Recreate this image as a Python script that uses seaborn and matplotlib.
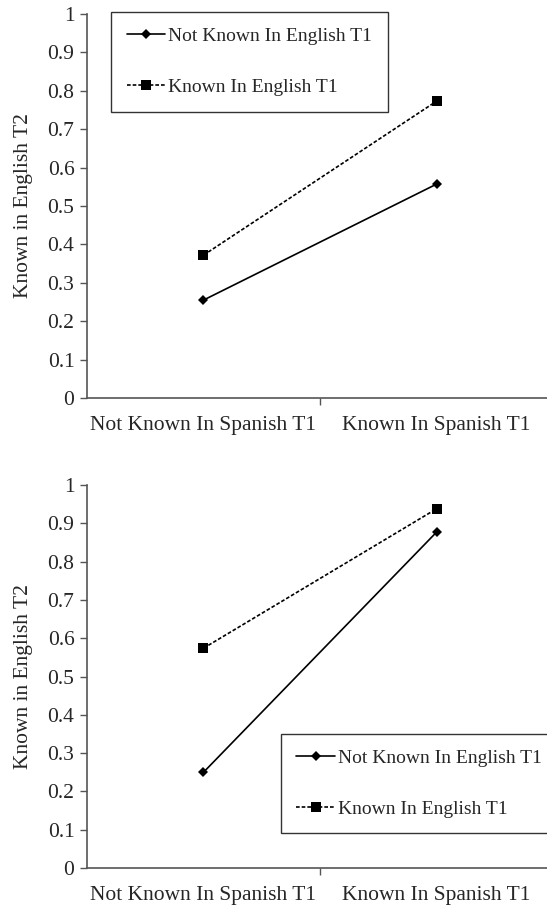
import matplotlib
matplotlib.use("Agg")
import matplotlib.pyplot as plt
import pandas as pd
import seaborn as sns

# ─── Dados ────────────────────────────────────────────────────────────────────
categorias = ["Not Known In Spanish T1", "Known In Spanish T1"]
series = ["Not Known In English T1", "Known In English T1"]

# painel superior
topo_nao_conhecido = [0.255, 0.557]
topo_conhecido = [0.372, 0.773]

# painel inferior
base_nao_conhecido = [0.25, 0.877]
base_conhecido = [0.574, 0.938]

y_ticks = [0, 0.1, 0.2, 0.3, 0.4, 0.5, 0.6, 0.7, 0.8, 0.9, 1]
y_labels = ["0", "0.1", "0.2", "0.3", "0.4", "0.5", "0.6", "0.7", "0.8", "0.9", "1"]
y_titulo = "Known in English T2"

sns.set_style("ticks")
plt.rcParams["font.family"] = ["Liberation Serif", "DejaVu Serif"]
plt.rcParams["font.size"] = 15.5

FONTE_EIXO = 15.5
FONTE_LEG = 14


def montar_df(nao_conhecido, conhecido):
    return pd.DataFrame({
        "cat": categorias * 2,
        "valor": nao_conhecido + conhecido,
        "serie": [series[0]] * 2 + [series[1]] * 2,
    })


def desenhar(ax, df, leg_anchor):
    sns.lineplot(data=df, x="cat", y="valor", hue="serie", style="serie",
                 palette={series[0]: "black", series[1]: "black"},
                 markers={series[0]: "D", series[1]: "s"},
                 dashes={series[0]: "", series[1]: (2.2, 1.2)},
                 markersize=7, linewidth=1.2, markeredgewidth=0,
                 sort=False, ax=ax)
    for ln in ax.lines:
        if ln.get_marker() == "D":
            ln.set_markersize(5)
    ax.set_xlim(-0.5, 1.5)
    ax.set_ylim(0, 1)
    ax.set_yticks(y_ticks)
    ax.set_yticklabels(y_labels)
    ax.set_xticks([0, 1])
    ax.set_xticklabels(categorias)
    ax.set_xticks([0.5], minor=True)
    ax.tick_params(axis="x", which="major", length=0, pad=13, labelsize=FONTE_EIXO)
    ax.tick_params(axis="x", which="minor", length=5, color="#555555", width=1)
    ax.tick_params(axis="y", length=5, color="#555555", width=1, pad=4, labelsize=FONTE_EIXO)
    ax.set_xlabel("")
    ax.set_ylabel(y_titulo, fontsize=FONTE_EIXO)
    ax.yaxis.set_label_coords(-0.115, 0.5)
    for lado in ["top", "right"]:
        ax.spines[lado].set_visible(False)
    for lado in ["left", "bottom"]:
        ax.spines[lado].set_color("#555555")
        ax.spines[lado].set_linewidth(1.2)
    leg = ax.legend(loc="upper left", bbox_to_anchor=leg_anchor, borderaxespad=0,
                    frameon=True, fancybox=False, edgecolor="black",
                    handlelength=2.0, handletextpad=0.15,
                    labelspacing=1.7, borderpad=0.8, fontsize=FONTE_LEG)
    leg.get_frame().set_linewidth(1.0)
    leg.set_title(None)


fig = plt.figure(figsize=(5.47, 9.06), dpi=100)
ax1 = fig.add_axes([0.159, 0.5607, 0.852, 0.4238])
ax2 = fig.add_axes([0.159, 0.0419, 0.852, 0.4227])

desenhar(ax1, montar_df(topo_nao_conhecido, topo_conhecido), (0.0515, 1.005))
desenhar(ax2, montar_df(base_nao_conhecido, base_conhecido), (0.416, 0.35))

fig.savefig("out.png", dpi=100)
plt.close(fig)
